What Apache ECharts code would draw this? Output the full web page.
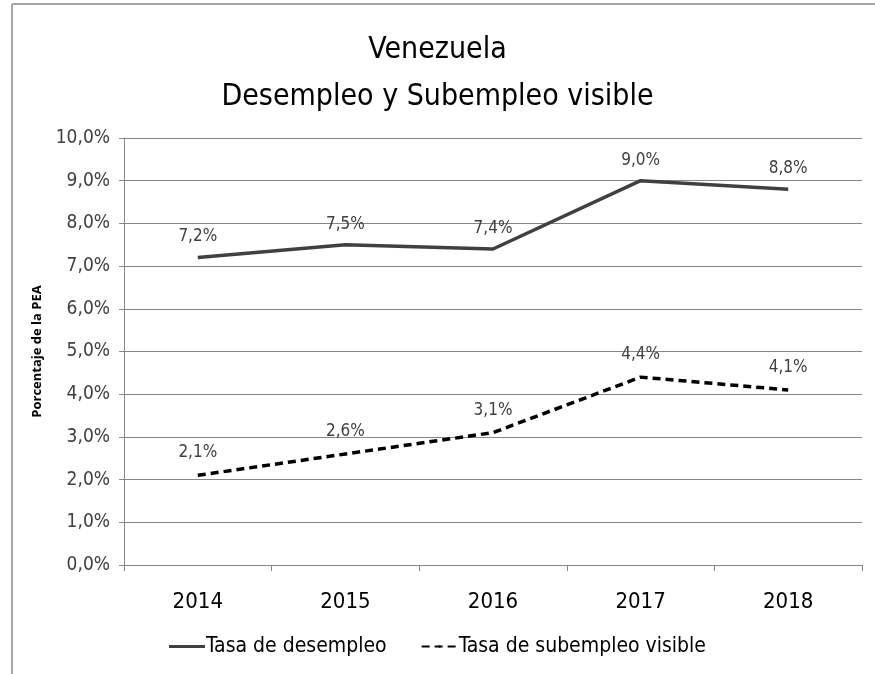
<!DOCTYPE html>
<html><head><meta charset="utf-8">
<script src="https://cdn.jsdelivr.net/npm/echarts@6/dist/echarts.min.js"></script>
<style>html,body{margin:0;padding:0;background:#fff}#c{width:875px;height:674px}</style>
</head><body><div id="c"></div>
<script>
const categories = ['2014','2015','2016','2017','2018'];
const desempleo = [7.2, 7.5, 7.4, 9.0, 8.8];
const subempleo = [2.1, 2.6, 3.1, 4.4, 4.1];
const yTicks = [0,1,2,3,4,5,6,7,8,9,10];
const FONT = '"Liberation Sans Narrow","DejaVu Sans Condensed","Open Sans",sans-serif';
const fmt = v => v.toFixed(1).replace('.', ',') + '%';
const chart = echarts.init(document.getElementById('c'));
chart.setOption({
  backgroundColor: '#fff',
  animation: false,
  graphic: [
    {type:'line', shape:{x1:12,y1:4,x2:875,y2:4}, style:{stroke:'#a6a6a6', lineWidth:2}},
    {type:'line', shape:{x1:12,y1:4,x2:12,y2:674}, style:{stroke:'#a6a6a6', lineWidth:2}}
  ],
  title: {
    text: 'Venezuela\nDesempleo y Subempleo visible',
    left: 'center', top: 22,
    textStyle: {fontFamily: FONT, fontSize: 30, fontWeight: 'normal', color: '#000', lineHeight: 47}
  },
  legend: {
    bottom: 12, left: 'center', itemGap: 34, itemWidth: 36, itemHeight: 3,
    textStyle: {fontFamily: FONT, fontSize: 21, color: '#000', padding:[0,0,0,-4]},
    data: [
      {name: 'Tasa de desempleo', icon: 'rect'},
      {name: 'Tasa de subempleo visible'}
    ]
  },
  grid: {left: 124, right: 13, top: 138, bottom: 109},
  xAxis: {
    type: 'category', data: categories, boundaryGap: true,
    axisLine: {lineStyle: {color: '#868686', width: 1}},
    axisTick: {show: true, length: 6, lineStyle: {color: '#868686'}},
    axisLabel: {fontFamily: FONT, fontSize: 22, color: '#000', margin: 26}
  },
  yAxis: {
    type: 'value', min: 0, max: 10, interval: 1,
    name: 'Porcentaje de la PEA', nameLocation: 'middle', nameGap: 80, nameRotate: 90,
    nameTextStyle: {fontFamily: '"Open Sans",sans-serif', fontSize: 13, fontWeight: 'bold', color: '#000'},
    axisLine: {show: true, lineStyle: {color: '#868686'}},
    axisTick: {show: true, length: 5, lineStyle: {color: '#868686'}},
    splitLine: {lineStyle: {color: '#868686', width: 1}},
    axisLabel: {fontFamily: FONT, fontSize: 19, color: '#404040', margin: 14, formatter: v => fmt(v)}
  },
  series: [
    {
      name: 'Tasa de desempleo', type: 'line', data: desempleo,
      symbol: 'circle', symbolSize: 0, showSymbol: true,
      lineStyle: {color: '#404040', width: 3.5}, itemStyle: {color: '#404040'},
      label: {show: true, position: 'top', distance: 12, fontFamily: FONT, fontSize: 17, color: '#404040', formatter: p => fmt(p.value)}
    },
    {
      name: 'Tasa de subempleo visible', type: 'line', data: subempleo,
      symbol: 'circle', symbolSize: 0, showSymbol: true,
      lineStyle: {color: '#000', width: 3.5, type: [8, 5]}, itemStyle: {color: '#000'},
      label: {show: true, position: 'top', distance: 14, fontFamily: FONT, fontSize: 17, color: '#404040', formatter: p => fmt(p.value)}
    }
  ]
});
</script></body></html>
